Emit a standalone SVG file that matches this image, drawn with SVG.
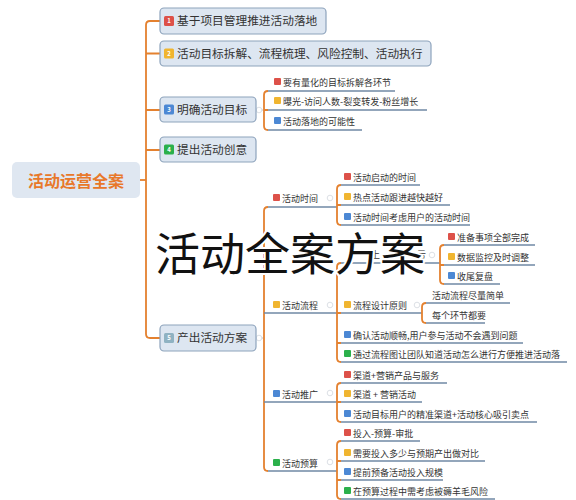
<svg xmlns="http://www.w3.org/2000/svg" width="576" height="500" viewBox="0 0 576 500">
<style>
text{font-family:"Noto Sans CJK SC","Noto Sans",sans-serif;}
.box{fill:#dde6f1;stroke:#8da3bc;stroke-width:1.2;}
.l1{font-size:11.7px;fill:#333;}
.lf{font-size:9px;fill:#333;}
.num{font-size:6px;fill:#fff;font-weight:bold;text-anchor:middle;}
.or{fill:none;stroke:#e4812f;stroke-width:1.8;}
.bl{fill:none;stroke:#7089a5;stroke-width:1.4;}
.dot{fill:none;stroke:#b8c2cc;stroke-width:1;stroke-dasharray:1.5 1.5;}
.col{fill:#fff;stroke:#d3d8de;stroke-width:0.8;}
.r{fill:#dd5149;}.y{fill:#f0b530;}.b{fill:#4c88d4;}.g{fill:#2bb04b;}.t{fill:#8fb2c2;}
</style>
<rect width="576" height="500" fill="#fff"/>
<g id="connectors">
<path class="or" d="M140 180 H146"/>
<path class="or" d="M160 21 H150 Q146 21 146 25 V334 Q146 338 150 338 H160"/>
<path class="or" d="M146 53.5 H160 M146 110 H160 M146 150 H160"/>
<path class="dot" d="M256 110 H264 M256 338 H264"/>
<path class="or" d="M268 91 Q264 91 264 95 V126 Q264 130 268 130 M264 110 H268"/>
<path class="bl" d="M268 91 H395 M268 110 H427 M268 130 H362"/>
<path class="or" d="M268 207 Q264 207 264 211 V467 Q264 471 268 471"/>
<path class="bl" d="M268 207 H337 M264 313 H337 M264 402 H337 M268 471 H337"/>
<path class="or" d="M341 185 Q337 185 337 189 V221 Q337 225 341 225 M337 205 H341"/>
<path class="bl" d="M341 185 H420 M341 205 H450 M341 225 H470"/>
<path class="or" d="M341 263 Q337 263 337 267 V358 Q337 362 341 362 M337 313 H341 M337 343 H341"/>
<path class="bl" d="M341 263 H440 M341 313 H422 M341 343 H523 M341 362 H567"/>
<path class="or" d="M444 245 Q440 245 440 249 V280 Q440 284 444 284 M440 265 H444"/>
<path class="bl" d="M444 245 H535 M444 265 H535 M444 284 H500"/>
<path class="or" d="M426 303 Q422 303 422 307 V319 Q422 323 426 323"/>
<path class="bl" d="M426 303 H510 M426 323 H485"/>
<path class="or" d="M341 383 Q337 383 337 387 V418 Q337 422 341 422 M337 402 H341"/>
<path class="bl" d="M341 383 H447 M341 402 H422 M341 422 H537"/>
<path class="or" d="M341 441 Q337 441 337 445 V495 Q337 499 341 499 M337 461 H341 M337 480 H341"/>
<path class="bl" d="M341 441 H420 M341 461 H485 M341 480 H443 M341 499 H495"/>
<g>
<circle class="col" cx="259" cy="110" r="2.8"/><circle class="col" cx="259" cy="338" r="2.8"/>
<circle class="col" cx="330" cy="198" r="2.8"/><circle class="col" cx="330" cy="305" r="2.8"/>
<circle class="col" cx="330" cy="393" r="2.8"/><circle class="col" cx="330" cy="462" r="2.8"/>
<circle class="col" cx="417" cy="305" r="2.8"/><circle class="col" cx="432" cy="255" r="2.8"/>
</g>
</g>
<g id="root"><rect x="12" y="162" width="128" height="36" rx="5" fill="#dfe7f1"/><text x="76" y="186.5" font-size="16" font-weight="bold" fill="#e8782a" text-anchor="middle">活动运营全案</text></g>
<g id="n1"><rect class="box" x="160" y="8" width="166" height="26" rx="4"/><rect class="r" x="164" y="16" width="10" height="10" rx="1.5"/><text class="num" x="169" y="23.2">1</text><text class="l1" x="177" y="25.2">基于项目管理推进活动落地</text></g>
<g id="n2"><rect class="box" x="160" y="41" width="271" height="25" rx="4"/><rect class="y" x="164" y="48.5" width="10" height="10" rx="1.5"/><text class="num" x="169" y="55.7">2</text><text class="l1" x="177" y="57.7">活动目标拆解、流程梳理、风险控制、活动执行</text></g>
<g id="n3"><rect class="box" x="160" y="97" width="96" height="25" rx="4"/><rect class="b" x="164" y="104.5" width="10" height="10" rx="1.5"/><text class="num" x="169" y="111.7">3</text><text class="l1" x="177" y="113.7">明确活动目标</text></g>
<g id="n4"><rect class="box" x="160" y="137" width="96" height="25" rx="4"/><rect class="g" x="164" y="144.5" width="10" height="10" rx="1.5"/><text class="num" x="169" y="151.7">4</text><text class="l1" x="177" y="153.7">提出活动创意</text></g>
<g id="n5"><rect class="box" x="160" y="325" width="96" height="26" rx="4"/><rect class="t" x="164" y="333" width="10" height="10" rx="1.5"/><text class="num" x="169" y="340.2">5</text><text class="l1" x="177" y="342.2">产出活动方案</text></g>
<g id="n3c">
<rect class="r" x="274" y="78" width="7" height="7" rx="1"/><text class="lf" x="283" y="86">要有量化的目标拆解各环节</text>
<rect class="y" x="274" y="97" width="7" height="7" rx="1"/><text class="lf" x="283" y="105">曝光-访问人数-裂变转发-粉丝增长</text>
<rect class="b" x="274" y="117" width="7" height="7" rx="1"/><text class="lf" x="283" y="125">活动落地的可能性</text>
</g>
<g id="n5a">
<rect class="r" x="273" y="194" width="7" height="7" rx="1"/><text class="lf" x="282" y="202">活动时间</text>
<rect class="r" x="344" y="173" width="7" height="7" rx="1"/><text class="lf" x="353" y="181">活动启动的时间</text>
<rect class="y" x="344" y="193" width="7" height="7" rx="1"/><text class="lf" x="353" y="201">热点活动跟进越快越好</text>
<rect class="b" x="344" y="213" width="7" height="7" rx="1"/><text class="lf" x="353" y="221">活动时间考虑用户的活动时间</text>
</g>
<g id="n5b">
<rect class="y" x="273" y="301" width="7" height="7" rx="1"/><text class="lf" x="282" y="309">活动流程</text>
<text class="lf" x="371" y="258" fill="#888">上</text><text class="lf" x="417" y="258" fill="#888">亏</text>
<rect class="r" x="448" y="233" width="7" height="7" rx="1"/><text class="lf" x="457" y="241">准备事项全部完成</text>
<rect class="y" x="448" y="253" width="7" height="7" rx="1"/><text class="lf" x="457" y="261">数据监控及时调整</text>
<rect class="b" x="448" y="272" width="7" height="7" rx="1"/><text class="lf" x="457" y="280">收尾复盘</text>
<rect class="y" x="344" y="301" width="7" height="7" rx="1"/><text class="lf" x="353" y="309">流程设计原则</text>
<text class="lf" x="432" y="299">活动流程尽量简单</text>
<text class="lf" x="432" y="319">每个环节都要</text>
<rect class="b" x="344" y="331" width="7" height="7" rx="1"/><text class="lf" x="353" y="339">确认活动顺畅,用户参与活动不会遇到问题</text>
<rect class="g" x="344" y="350" width="7" height="7" rx="1"/><text class="lf" x="353" y="358">通过流程图让团队知道活动怎么进行方便推进活动落</text>
</g>
<g id="n5c">
<rect class="b" x="273" y="390" width="7" height="7" rx="1"/><text class="lf" x="282" y="398">活动推广</text>
<rect class="r" x="344" y="371" width="7" height="7" rx="1"/><text class="lf" x="353" y="379">渠道+营销产品与服务</text>
<rect class="y" x="344" y="390" width="7" height="7" rx="1"/><text class="lf" x="353" y="398">渠道 + 营销活动</text>
<rect class="b" x="344" y="410" width="7" height="7" rx="1"/><text class="lf" x="353" y="418">活动目标用户的精准渠道+活动核心吸引卖点</text>
</g>
<g id="n5d">
<rect class="g" x="273" y="459" width="7" height="7" rx="1"/><text class="lf" x="282" y="467">活动预算</text>
<rect class="r" x="344" y="429" width="7" height="7" rx="1"/><text class="lf" x="353" y="437">投入-预算-审批</text>
<rect class="y" x="344" y="449" width="7" height="7" rx="1"/><text class="lf" x="353" y="457">需要投入多少与预期产出做对比</text>
<rect class="b" x="344" y="468" width="7" height="7" rx="1"/><text class="lf" x="353" y="476">提前预备活动投入规模</text>
<rect class="g" x="344" y="487" width="7" height="7" rx="1"/><text class="lf" x="353" y="495">在预算过程中需考虑被薅羊毛风险</text>
</g>
<g id="title"><text x="155" y="271" font-size="45" fill="#111" stroke="#fff" stroke-width="4" paint-order="stroke" stroke-linejoin="round">活动全案方案</text></g>
</svg>
